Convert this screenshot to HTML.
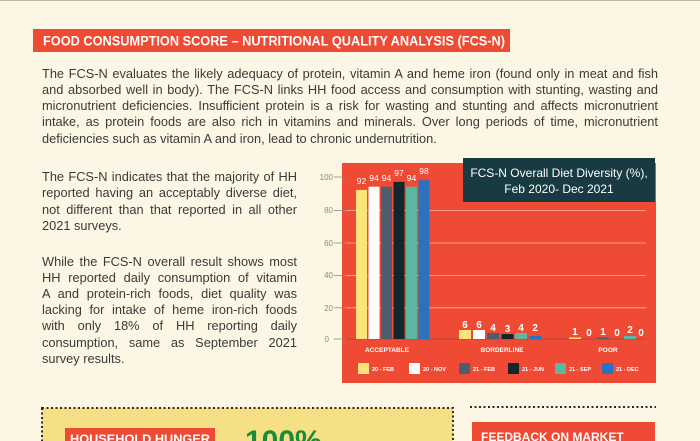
<!DOCTYPE html>
<html><head><meta charset="utf-8"><style>
*{margin:0;padding:0;box-sizing:border-box}
body{width:700px;height:441px;background:#fcf7e4;position:relative;overflow:hidden;font-family:"Liberation Sans",sans-serif;color:#3a3a3a}
.l{position:absolute;font-size:12.8px;line-height:16px;white-space:nowrap;text-align:justify;text-align-last:justify;height:16px;overflow:hidden}
.n{text-align-last:left}
.a{position:absolute}
</style></head><body>
<div class="a" style="left:0;top:0;width:700px;height:1px;background:#bbb8a8"></div>

<div class="l" style="left:42px;top:66px;width:616px">The FCS-N evaluates the likely adequacy of protein, vitamin A and heme iron (found only in meat and fish</div>
<div class="l" style="left:42px;top:82px;width:616px">and absorbed well in body). The FCS-N links HH food access and consumption with stunting, wasting and</div>
<div class="l" style="left:42px;top:98px;width:616px">micronutrient deficiencies. Insufficient protein is a risk for wasting and stunting and affects micronutrient</div>
<div class="l" style="left:42px;top:114px;width:616px">intake, as protein foods are also rich in vitamins and minerals. Over long periods of time, micronutrient</div>
<div class="l n" style="left:42px;top:131px;width:616px">deficiencies such as vitamin A and iron, lead to chronic undernutrition.</div>

<div class="l" style="left:42px;top:169px;width:255px">The FCS-N indicates that the majority of HH</div>
<div class="l" style="left:42px;top:185px;width:255px">reported having an acceptably diverse diet,</div>
<div class="l" style="left:42px;top:202px;width:255px">not different than that reported in all other</div>
<div class="l n" style="left:42px;top:218px;width:255px">2021 surveys.</div>
<div class="l" style="left:42px;top:254px;width:255px">While the FCS-N overall result shows most</div>
<div class="l" style="left:42px;top:270px;width:255px">HH reported daily consumption of vitamin</div>
<div class="l" style="left:42px;top:286px;width:255px">A and protein-rich foods, diet quality was</div>
<div class="l" style="left:42px;top:302px;width:255px">lacking for intake of heme iron-rich foods</div>
<div class="l" style="left:42px;top:318px;width:255px">with only 18% of HH reporting daily</div>
<div class="l" style="left:42px;top:335px;width:255px">consumption, same as September 2021</div>
<div class="l n" style="left:42px;top:351px;width:255px">survey results.</div>

<svg class="a" style="left:0;top:0" width="700" height="441" font-family="Liberation Sans, sans-serif">
<rect x="33" y="29" width="477" height="23" fill="#ef4a33"/>
<text x="43" y="45.5" fill="#fff" font-size="13.5" font-weight="bold" textLength="462" lengthAdjust="spacingAndGlyphs">FOOD CONSUMPTION SCORE – NUTRITIONAL QUALITY ANALYSIS (FCS-N)</text>
<rect x="342" y="163" width="314" height="220" fill="#ef4a33"/>
<g stroke="#f7b5a8" stroke-width="0.8">
<line x1="344" y1="210.6" x2="646" y2="210.6"/><line x1="344" y1="243" x2="646" y2="243"/><line x1="344" y1="275.4" x2="646" y2="275.4"/><line x1="344" y1="307.8" x2="646" y2="307.8"/>
</g>
<line x1="344" y1="339" x2="646" y2="339" stroke="#a84a3a" stroke-width="1"/>
<g stroke="#8a8a80" stroke-width="0.8"><line x1="334" y1="177" x2="346" y2="177"/><line x1="334" y1="210.6" x2="346" y2="210.6"/><line x1="334" y1="243" x2="346" y2="243"/><line x1="334" y1="275.4" x2="346" y2="275.4"/><line x1="334" y1="307.8" x2="346" y2="307.8"/><line x1="334" y1="339" x2="346" y2="339"/></g>
<g font-size="8" fill="#8a8a80" text-anchor="end"><text x="333" y="180">100</text><text x="333" y="213">80</text><text x="333" y="246">60</text><text x="333" y="278">40</text><text x="333" y="311">20</text><text x="329" y="342">0</text></g>
<rect x="463" y="158" width="192" height="44" fill="#173b40"/>
<text x="559" y="177" fill="#fff" font-size="12" text-anchor="middle">FCS-N Overall Diet Diversity (%),</text>
<text x="559" y="193" fill="#fff" font-size="12" text-anchor="middle">Feb 2020- Dec 2021</text>
<g>
<rect x="356" y="189.9" width="11" height="149.1" fill="#fbe57b"/>
<rect x="368.5" y="186.7" width="11" height="152.3" fill="#fff"/>
<rect x="381" y="186.7" width="11" height="152.3" fill="#4d5e6e"/>
<rect x="393.5" y="181.9" width="11" height="157.1" fill="#13262e"/>
<rect x="406" y="186.7" width="11" height="152.3" fill="#5cb6a2"/>
<rect x="418.5" y="180.2" width="11" height="158.8" fill="#2a71c0"/>
<rect x="459" y="330" width="12" height="9" fill="#fbe57b"/>
<rect x="473" y="330" width="12" height="9" fill="#fff"/>
<rect x="487" y="333" width="12" height="6" fill="#4d5e6e"/>
<rect x="501.5" y="334" width="12" height="5" fill="#13262e"/>
<rect x="515" y="333" width="12" height="6" fill="#5cb6a2"/>
<rect x="529" y="336" width="12" height="3" fill="#2a71c0"/>
<rect x="569" y="337.5" width="12" height="1.5" fill="#fbe57b"/>
<rect x="597" y="337.5" width="12" height="1.5" fill="#4d5e6e"/>
<rect x="624" y="336" width="12" height="3" fill="#5cb6a2"/>
</g>
<g font-size="8.5" fill="#fff" text-anchor="middle">
<text x="361.5" y="184">92</text><text x="374" y="181">94</text><text x="386.5" y="181">94</text><text x="399" y="176">97</text><text x="411.5" y="181">94</text><text x="424" y="174">98</text>
</g>
<g font-size="10" fill="#fff" text-anchor="middle" font-weight="bold">
<text x="465" y="328">6</text><text x="479" y="328">6</text><text x="493" y="331">4</text><text x="507.5" y="332">3</text><text x="521" y="331">4</text><text x="535" y="331">2</text>
<text x="575" y="335">1</text><text x="589" y="336">0</text><text x="603" y="335">1</text><text x="617" y="336">0</text><text x="630" y="333">2</text><text x="641" y="336">0</text>
</g>
<g font-size="6.5" fill="#fff" text-anchor="middle" font-weight="bold">
<text x="387" y="352">ACCEPTABLE</text><text x="502" y="352">BORDERLINE</text><text x="608" y="352">POOR</text>
</g>
<g font-size="5.5" fill="#fff" font-weight="bold">
<rect x="358" y="363" width="11" height="11" fill="#fbe57b"/><text x="372" y="371">20 - FEB</text>
<rect x="409" y="363" width="11" height="11" fill="#fff"/><text x="423" y="371">20 - NOV</text>
<rect x="459" y="363" width="11" height="11" fill="#4d5e6e"/><text x="473" y="371">21 - FEB</text>
<rect x="508" y="363" width="11" height="11" fill="#13262e"/><text x="522" y="371">21 - JUN</text>
<rect x="555" y="363" width="11" height="11" fill="#5cb6a2"/><text x="569" y="371">21 - SEP</text>
<rect x="602" y="363" width="11" height="11" fill="#2a71c0"/><text x="616" y="371">21 - DEC</text>
</g>
<rect x="42" y="408" width="411" height="40" fill="#f6e085" stroke="#2a2a2a" stroke-width="2" stroke-dasharray="2 2.5"/>
<line x1="470" y1="407" x2="656" y2="407" stroke="#2a2a2a" stroke-width="2" stroke-dasharray="2 2.5"/>
<rect x="65" y="428" width="150" height="20" fill="#ef4a33"/>
<text x="70" y="443" fill="#fff" font-size="12" font-weight="bold" textLength="140" lengthAdjust="spacingAndGlyphs">HOUSEHOLD HUNGER</text>
<text x="245" y="451" fill="#1c8a3a" font-size="30" font-weight="bold">100%</text>
<rect x="472" y="422" width="183" height="25" fill="#ef4a33"/>
<text x="481" y="441" fill="#fff" font-size="12" font-weight="bold">FEEDBACK ON MARKET</text>
</svg>
</body></html>
